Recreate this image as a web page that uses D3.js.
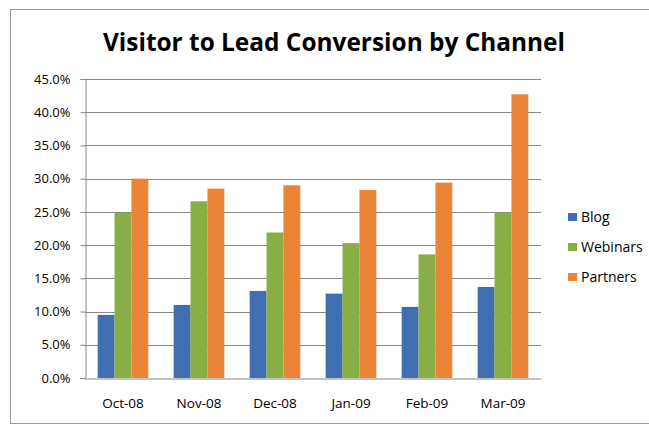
<!DOCTYPE html>
<html>
<head>
<meta charset="utf-8">
<script src="https://d3js.org/d3.v7.min.js"></script>
<style>
  body { margin: 0; background: #fff; }
  text { font-family: "Open Sans", "Noto Sans", sans-serif; fill: #000; }
</style>
</head>
<body>
<svg id="chart" width="649" height="427"></svg>
<script>
// data
const months = ["Oct-08", "Nov-08", "Dec-08", "Jan-09", "Feb-09", "Mar-09"];
const channels = ["Blog", "Webinars", "Partners"];
const blog = [0.095, 0.110, 0.131, 0.127, 0.107, 0.137];
const webinars = [0.249, 0.266, 0.219, 0.203, 0.186, 0.249];
const partners = [0.300, 0.285, 0.290, 0.283, 0.294, 0.427];
const yTicks = [0, 0.05, 0.10, 0.15, 0.20, 0.25, 0.30, 0.35, 0.40, 0.45];
const colors = ["#3F6EB1", "#88AE45", "#EB8437"];

const series = [blog, webinars, partners];
const rows = months.map((m, i) => ({ month: m, values: series.map(s => s[i]) }));

const svg = d3.select("#chart");

// outer frame
svg.append("rect")
  .attr("x", 10.5).attr("y", 9.5)
  .attr("width", 660).attr("height", 414)
  .attr("fill", "none").attr("stroke", "#9a9a9a");

const plotL = 85, plotR = 541, plotT = 79, plotB = 378;

const x = d3.scaleBand().domain(months).range([plotL, plotR]);
const x1 = d3.scaleBand().domain(channels)
  .range([0, x.bandwidth() * 3 / 4.5]);
const y = d3.scaleLinear().domain([0, 0.45]).range([plotB, plotT]);

// gridlines
svg.append("g").selectAll("line").data(yTicks.slice(1))
  .join("line")
  .attr("x1", plotL).attr("x2", plotR)
  .attr("y1", d => Math.round(y(d)) + 0.5).attr("y2", d => Math.round(y(d)) + 0.5)
  .attr("stroke", "#878787");

// bars
const groups = svg.append("g").selectAll("g").data(rows)
  .join("g")
  .attr("transform", d => `translate(${x(d.month) + x.bandwidth() * 0.75 / 4.5},0)`);

groups.selectAll("rect").data(d => d.values.map((v, k) => ({ ch: channels[k], v, k })))
  .join("rect")
  .attr("x", d => x1(d.ch))
  .attr("y", d => y(d.v))
  .attr("width", x1.bandwidth())
  .attr("height", d => plotB - y(d.v))
  .attr("fill", d => colors[d.k]);

// y axis
const yAxis = svg.append("g")
  .attr("transform", `translate(${plotL + 0.5},0)`)
  .call(d3.axisLeft(y).tickValues(yTicks).tickFormat(d3.format(".1%")).tickSize(5).tickPadding(10));
yAxis.selectAll("line").attr("stroke", "#878787");
yAxis.select(".domain").attr("stroke", "#878787");
yAxis.selectAll("text")
  .style("font-size", "13px")
  .attr("fill", "#000");

// x axis
const xAxis = svg.append("g")
  .attr("transform", `translate(0,${plotB + 0.5})`)
  .call(d3.axisBottom(x).tickSize(0).tickPadding(20));
xAxis.select(".domain").attr("stroke", "#878787");
xAxis.selectAll("text")
  .style("font-size", "13.5px")
  .attr("fill", "#000");

// title
svg.append("text")
  .attr("x", 334).attr("y", 51)
  .attr("text-anchor", "middle")
  .attr("textLength", 462)
  .attr("lengthAdjust", "spacingAndGlyphs")
  .style("font-size", "25px")
  .style("font-weight", "bold")
  .text("Visitor to Lead Conversion by Channel");

// legend
const legend = svg.append("g").selectAll("g").data(channels)
  .join("g")
  .attr("transform", (d, i) => `translate(568,${217 + i * 30})`);
legend.append("rect")
  .attr("x", 0).attr("y", -4)
  .attr("width", 9).attr("height", 8)
  .attr("fill", (d, i) => colors[i]);
legend.append("text")
  .attr("x", 13).attr("dy", "0.35em")
  .style("font-size", "14px")
  .text(d => d);
</script>
</body>
</html>
